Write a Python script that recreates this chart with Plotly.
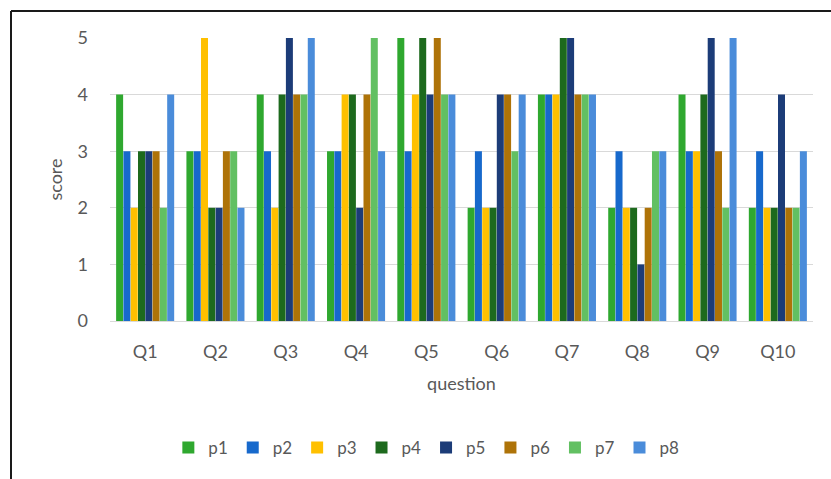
import plotly.graph_objects as go

questions = ["Q1", "Q2", "Q3", "Q4", "Q5", "Q6", "Q7", "Q8", "Q9", "Q10"]
p1 = [4, 3, 4, 3, 5, 2, 4, 2, 4, 2]
p2 = [3, 3, 3, 3, 3, 3, 4, 3, 3, 3]
p3 = [2, 5, 2, 4, 4, 2, 4, 2, 3, 2]
p4 = [3, 2, 4, 4, 5, 2, 5, 2, 4, 2]
p5 = [3, 2, 5, 2, 4, 4, 5, 1, 5, 4]
p6 = [3, 3, 4, 4, 5, 4, 4, 2, 3, 2]
p7 = [2, 3, 4, 5, 4, 3, 4, 3, 2, 2]
p8 = [4, 2, 5, 3, 4, 4, 4, 3, 5, 3]

series = [("p1", p1), ("p2", p2), ("p3", p3), ("p4", p4),
          ("p5", p5), ("p6", p6), ("p7", p7), ("p8", p8)]
colors = ["#2FA82F", "#1769CC", "#FFC000", "#1D6A1D",
          "#1C3C78", "#AE7308", "#62C062", "#4A8CDA"]

W, H = 831, 479
ML, MR, MT, MB = 110, 18, 38, 158
pw, ph = W - ML - MR, H - MT - MB

fig = go.Figure()
for (name, vals), c in zip(series, colors):
    fig.add_trace(go.Bar(x=questions, y=vals, name=name, marker_color=c,
                         marker_line_width=0))

# outer frame (top and left edges visible)
def px_x(px):
    return (px - ML) / pw

def px_y(py):
    return (H - MB - py) / ph

fx, fy = px_x(11), px_y(11)
fig.add_shape(type="line", xref="paper", yref="paper",
              x0=fx, y0=fy, x1=px_x(W + 10), y1=fy,
              line=dict(color="#1a1a1a", width=2))
fig.add_shape(type="line", xref="paper", yref="paper",
              x0=fx, y0=fy, x1=fx, y1=px_y(H + 10),
              line=dict(color="#1a1a1a", width=2))

font_family = "Lato, Open Sans, sans-serif"
fig.update_layout(
    width=W, height=H,
    margin=dict(l=ML, r=MR, t=MT, b=MB, pad=0),
    paper_bgcolor="white", plot_bgcolor="white",
    barmode="group", bargap=0.17, bargroupgap=0.04,
    font=dict(family=font_family, color="#595959", size=17),
    xaxis=dict(
        title=dict(text="question", font=dict(size=18), standoff=16),
        tickfont=dict(size=18),
        showgrid=False, showline=True, linecolor="#d9d9d9", linewidth=1,
        ticks="", ticklabelstandoff=14,
    ),
    yaxis=dict(
        title=dict(text="score", font=dict(size=18), standoff=10),
        range=[0, 5], dtick=1, tickfont=dict(size=18),
        showgrid=True, gridcolor="#d9d9d9", gridwidth=1,
        zeroline=True, zerolinecolor="#d9d9d9", zerolinewidth=1,
        showline=False, ticks="", ticklabelstandoff=21,
    ),
    legend=dict(
        orientation="h", x=0.45, xanchor="center", y=px_y(448), yanchor="middle",
        font=dict(size=17, color="#595959"), itemwidth=30,
        tracegroupgap=0, itemclick=False,
    ),
    showlegend=True,
)

fig.write_html("out.html")
